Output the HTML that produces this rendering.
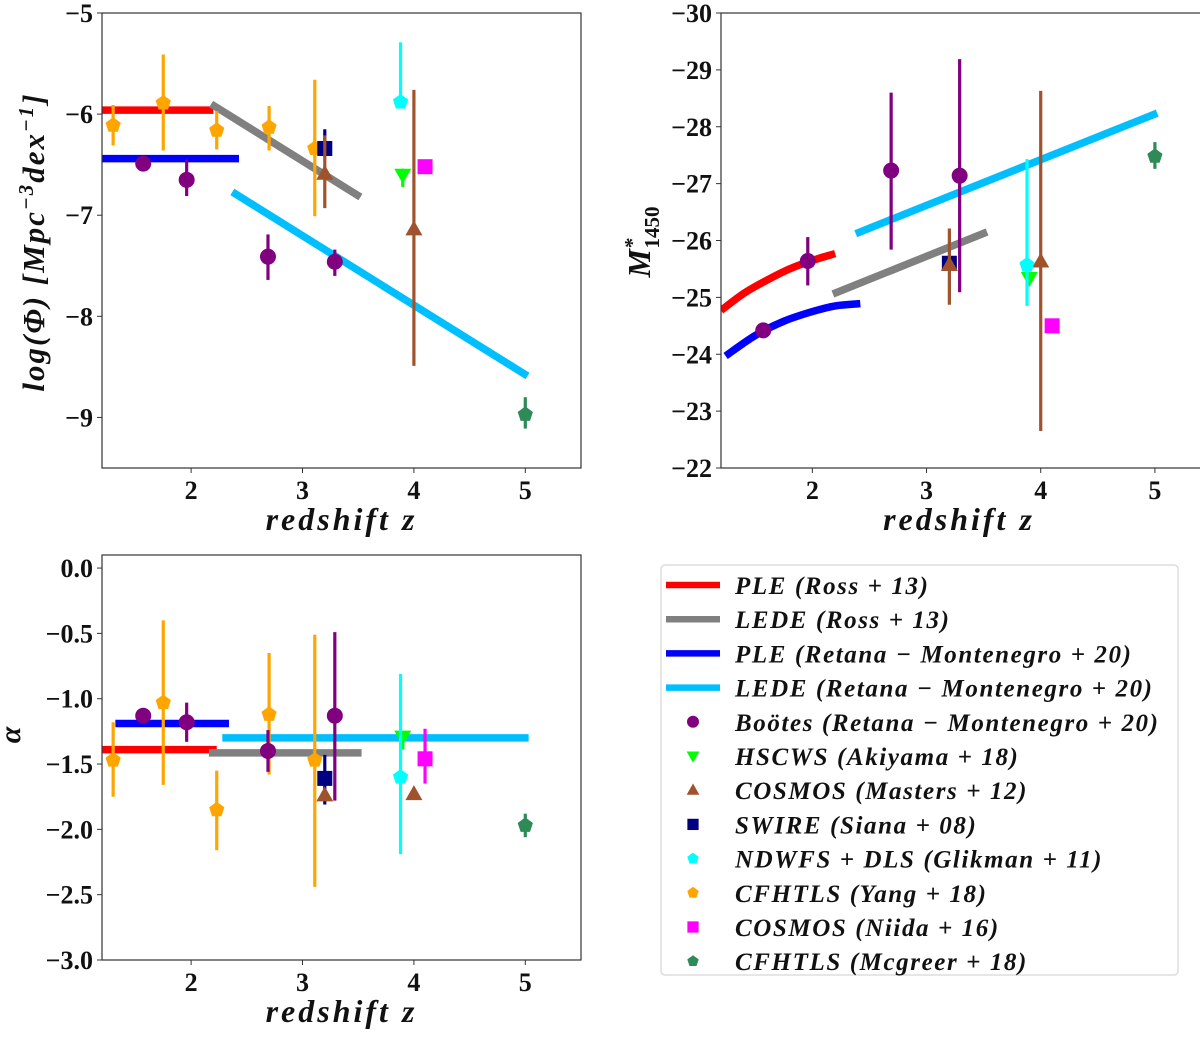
<!DOCTYPE html>
<html><head><meta charset="utf-8"><style>
body{margin:0;background:#fff}
svg text{font-family:"Liberation Serif","DejaVu Serif",serif;font-weight:bold;fill:#111}
</style></head><body>
<svg id="svg" width="1200" height="1035" xmlns="http://www.w3.org/2000/svg"></svg>
<script>
// ===== data =====
const xTicks=[2,3,4,5];
const phiTicks=[-5,-6,-7,-8,-9];
const magTicks=[-30,-29,-28,-27,-26,-25,-24,-23,-22];
const alphaTicks=[0.0,-0.5,-1.0,-1.5,-2.0,-2.5,-3.0];
const pleRossZ=[[1.2,2.2],[1.2,1.4,1.6,1.8,2.0,2.2],[1.2,2.23]];
const pleRossV=[[-5.96,-5.96],[-24.77,-25.07,-25.3,-25.5,-25.65,-25.77],[-1.39,-1.39]];
const ledeRossZ=[[2.18,3.52],[2.18,3.53],[2.16,3.53]];
const ledeRossV=[[-5.9,-6.82],[-25.06,-26.15],[-1.415,-1.415]];
const pleRetZ=[[1.2,2.43],[1.24,1.5,1.75,2.0,2.2,2.42],[1.32,2.34]];
const pleRetV=[[-6.44,-6.44],[-23.97,-24.33,-24.58,-24.75,-24.85,-24.89],[-1.19,-1.19]];
const ledeRetZ=[[2.37,5.02],[2.38,5.02],[2.28,5.03]];
const ledeRetV=[[-6.77,-8.59],[-26.12,-28.24],[-1.30,-1.30]];
const bootesZ=[1.57,1.96,2.69,3.29];
const bootesPhi=[[-6.49,-6.49,-6.49],[-6.65,-6.81,-6.45],[-7.41,-7.64,-7.19],[-7.46,-7.6,-7.34]];
const bootesMag=[[-24.42,-24.42,-24.42],[-25.64,-25.21,-26.06],[-27.23,-25.84,-28.6],[-27.14,-25.09,-29.19]];
const bootesAlpha=[[-1.13,-1.13,-1.13],[-1.18,-1.33,-1.03],[-1.4,-1.56,-1.24],[-1.13,-1.78,-0.49]];
const hscZ=[3.9];
const hscPhi=[[-6.6,-6.72,-6.54]];
const hscMag=[[-25.34,-25.25,-25.45]];
const hscAlpha=[[-1.29,-1.39,-1.25]];
const mastersZ=[3.2,4.0];
const mastersPhi=[[-6.59,-6.93,-6.21],[-7.14,-8.49,-5.76]];
const mastersMag=[[-25.57,-24.87,-26.21],[-25.63,-22.65,-28.63]];
const mastersAlpha=[[-1.74,-1.74,-1.74],[-1.73,-1.73,-1.73]];
const swireZ=[3.2];
const swirePhi=[[-6.34,-6.42,-6.15]];
const swireMag=[[-25.6,-25.6,-25.6]];
const swireAlpha=[[-1.61,-1.81,-1.43]];
const ndwfsZ=[3.88];
const ndwfsPhi=[[-5.88,-5.9,-5.29]];
const ndwfsMag=[[-25.57,-24.85,-27.43]];
const ndwfsAlpha=[[-1.6,-2.19,-0.81]];
const yangZ=[1.3,1.75,2.23,2.7,3.11];
const yangPhi=[[-6.11,-6.31,-5.91],[-5.89,-6.36,-5.41],[-6.16,-6.35,-5.97],[-6.13,-6.36,-5.92],[-6.34,-7.01,-5.66]];
const yangAlpha=[[-1.47,-1.75,-1.18],[-1.03,-1.66,-0.4],[-1.85,-2.16,-1.55],[-1.12,-1.58,-0.65],[-1.47,-2.44,-0.51]];
const niidaZ=[4.1];
const niidaPhi=[[-6.52,-6.52,-6.52]];
const niidaMag=[[-24.5,-24.5,-24.5]];
const niidaAlpha=[[-1.46,-1.65,-1.23]];
const mcgZ=[5.0];
const mcgPhi=[[-8.97,-9.11,-8.8]];
const mcgMag=[[-27.48,-27.26,-27.73]];
const mcgAlpha=[[-1.97,-2.06,-1.88]];

// ===== layout =====
const NS="http://www.w3.org/2000/svg";
const svg=document.getElementById('svg');
function el(tag,attrs,parent){const e=document.createElementNS(NS,tag);for(const k in attrs)e.setAttribute(k,attrs[k]);(parent||svg).appendChild(e);return e;}
const panels=[
 {name:'phi',x0:102,x1:581,y0:13,y1:468,vmin:-9.5,vmax:-5,ticks:phiTicks,fmt:v=>'\u2212'+Math.abs(v)},
 {name:'mag',x0:721,x1:1212,y0:13,y1:468,vmin:-22,vmax:-30,ticks:magTicks,fmt:v=>'\u2212'+Math.abs(v)},
 {name:'alpha',x0:102,x1:581,y0:555,y1:960,vmin:-3.0,vmax:0.1,ticks:alphaTicks,fmt:v=>(v<0?'\u2212':'')+Math.abs(v).toFixed(1)}
];
panels.forEach((p,i)=>{
 p.sx=z=>p.x0+(z-1.2)/(5.5-1.2)*(p.x1-p.x0);
 p.sy=v=>p.y1-(v-p.vmin)/(p.vmax-p.vmin)*(p.y1-p.y0);
 const g=el('g',{});
 
 
 p.g=g;
 const cp=el('clipPath',{id:'cp'+i},g);el('rect',{x:p.x0,y:p.y0,width:p.x1-p.x0,height:p.y1-p.y0},cp);
 p.plot=el('g',{'clip-path':'url(#cp'+i+')'},g);
 const box=el('rect',{x:p.x0,y:p.y0,width:p.x1-p.x0,height:p.y1-p.y0,fill:'none',stroke:'#333','stroke-width':1.2},g);
 
 
 xTicks.forEach(t=>{const x=p.sx(t);el('line',{x1:x,x2:x,y1:p.y1,y2:p.y1+5,stroke:'#333'},g);
  const tx=el('text',{x:x,y:p.y1+31,'text-anchor':'middle','font-size':26},g);tx.textContent=t;
  
  });
 p.ticks.forEach(t=>{const y=p.sy(t);el('line',{x1:p.x0-5,x2:p.x0,y1:y,y2:y,stroke:'#333'},g);
  const tx=el('text',{x:p.x0-9,y:y+9,'text-anchor':'end','font-size':26},g);tx.textContent=p.fmt(t);
  
  });
 const xl=el('text',{x:(p.x0+Math.min(p.x1,1197))/2,y:p.y1+62,'text-anchor':'middle','font-size':32,'font-style':'italic','letter-spacing':'3'},g);
 xl.textContent='redshift z';
 
 
});
(function(){
 let t=el('text',{transform:'translate(44,242) rotate(-90)','text-anchor':'middle','font-size':31,'font-style':'italic','letter-spacing':'2'});
 t.innerHTML='log(\u03A6)  [Mpc<tspan dy="-11" font-size="21">\u22123</tspan><tspan dy="11">dex</tspan><tspan dy="-11" font-size="21">\u22121</tspan><tspan dy="11">]</tspan>';
 
 
 t=el('text',{transform:'translate(650,242) rotate(-90)','text-anchor':'middle','font-size':32,'font-style':'italic'});
 t.innerHTML='M<tspan dy="-11" font-size="21">*</tspan><tspan dx="-10" dy="20" font-size="21" font-style="normal">1450</tspan>';
 
 
 t=el('text',{transform:'translate(20,735) rotate(-90)','text-anchor':'middle','font-size':30,'font-style':'italic'});
 t.textContent='\u03B1';
 
 
})();
function smoothPath(P){
 if(P.length<3)return 'M'+P.map(q=>q.join(',')).join(' L');
 let d='M'+P[0][0]+','+P[0][1];
 for(let i=0;i<P.length-1;i++){
  const p0=P[i-1]||P[i],p1=P[i],p2=P[i+1],p3=P[i+2]||p2;
  const c1=[p1[0]+(p2[0]-p0[0])/6,p1[1]+(p2[1]-p0[1])/6];
  const c2=[p2[0]-(p3[0]-p1[0])/6,p2[1]-(p3[1]-p1[1])/6];
  d+=` C${c1[0]},${c1[1]} ${c2[0]},${c2[1]} ${p2[0]},${p2[1]}`;
 }
 return d;
}
const models=[
 {n:'ple-ross',c:'#ff0000',Z:pleRossZ,V:pleRossV},
 {n:'lede-ross',c:'#808080',Z:ledeRossZ,V:ledeRossV},
 {n:'ple-retana',c:'#0000ff',Z:pleRetZ,V:pleRetV},
 {n:'lede-retana',c:'#00bfff',Z:ledeRetZ,V:ledeRetV}];
models.forEach(m=>panels.forEach((p,i)=>{
 const pts=m.Z[i].map((z,k)=>[p.sx(z),p.sy(m.V[i][k])]);
 const l=el('path',{d:smoothPath(pts),fill:'none',stroke:m.c,'stroke-width':7.5},p.plot);
 
 
}));
function marker(shape,x,y,c,g){
 let e;
 if(shape==='o')e=el('circle',{cx:x,cy:y,r:8,fill:c},g);
 else if(shape==='s')e=el('rect',{x:x-7.5,y:y-7.5,width:15,height:15,fill:c},g);
 else if(shape==='^')e=el('polygon',{points:`${x},${y-9} ${x+8.5},${y+6} ${x-8.5},${y+6}`,fill:c},g);
 else if(shape==='v')e=el('polygon',{points:`${x},${y+9} ${x+8.5},${y-6} ${x-8.5},${y-6}`,fill:c},g);
 else{let s=[];for(let k=0;k<5;k++){const a=-Math.PI/2+k*2*Math.PI/5;s.push((x+8*Math.cos(a))+','+(y+8*Math.sin(a)));}e=el('polygon',{points:s.join(' '),fill:c},g);}
 return e;
}
const series=[
 {n:'yang',c:'#ffa500',s:'p',z:yangZ,d:[yangPhi,null,yangAlpha]},
 {n:'bootes',c:'#800080',s:'o',z:bootesZ,d:[bootesPhi,bootesMag,bootesAlpha]},
 {n:'hscws',c:'#00ff00',s:'v',z:hscZ,d:[hscPhi,hscMag,hscAlpha]},
 {n:'swire',c:'#000080',s:'s',z:swireZ,d:[swirePhi,swireMag,swireAlpha]},
 {n:'masters',c:'#a0522d',s:'^',z:mastersZ,d:[mastersPhi,mastersMag,mastersAlpha]},
 {n:'ndwfs',c:'#00ffff',s:'p',z:ndwfsZ,d:[ndwfsPhi,ndwfsMag,ndwfsAlpha]},
 {n:'niida',c:'#ff00ff',s:'s',z:niidaZ,d:[niidaPhi,niidaMag,niidaAlpha]},
 {n:'mcgreer',c:'#2e8b57',s:'p',z:mcgZ,d:[mcgPhi,mcgMag,mcgAlpha]}];
series.forEach(se=>panels.forEach((p,i)=>{
 const d=se.d[i];if(!d)return;
 se.z.forEach((z,k)=>{
  const x=p.sx(z);
  const eb=el('line',{x1:x,x2:x,y1:p.sy(d[k][1]),y2:p.sy(d[k][2]),stroke:se.c,'stroke-width':3.2},p.plot);
  
  
  const m=marker(se.s,x,p.sy(d[k][0]),se.c,p.plot);
  
  
 });
}));
(function(){
 const g=el('g',{});
 
 
 el('rect',{x:661,y:565,width:517,height:410,rx:4,fill:'#fff',stroke:'#ddd','stroke-width':1.5},g);
 const entries=[
  ['line','#ff0000','PLE','Ross + 13'],['line','#808080','LEDE','Ross + 13'],
  ['line','#0000ff','PLE','Retana \u2212 Montenegro + 20'],['line','#00bfff','LEDE','Retana \u2212 Montenegro + 20'],
  ['o','#800080','Bo\u00f6tes','Retana \u2212 Montenegro + 20'],['v','#00ff00','HSCWS','Akiyama + 18'],
  ['^','#a0522d','COSMOS','Masters + 12'],['s','#000080','SWIRE','Siana + 08'],
  ['p','#00ffff','NDWFS + DLS','Glikman + 11'],['p','#ffa500','CFHTLS','Yang + 18'],
  ['s','#ff00ff','COSMOS','Niida + 16'],['p','#2e8b57','CFHTLS','Mcgreer + 18']];
 entries.forEach((e,k)=>{
  const y=585+k*34.2;
  const row=el('g',{},g);
  
  
  if(e[0]==='line')el('line',{x1:666,x2:720,y1:y,y2:y,stroke:e[1],'stroke-width':6.5},row);
  else{const m=marker(e[0],693,y,e[1],row);m.setAttribute('transform',`translate(${693*0.25},${y*0.25}) scale(0.75)`);}
  const t=el('text',{x:735,y:y+9,'font-size':25,'font-style':'italic','letter-spacing':'1.6'},row);
  t.textContent=e[2]+' ('+e[3]+')';
 });
})();
</script>
</body></html>
